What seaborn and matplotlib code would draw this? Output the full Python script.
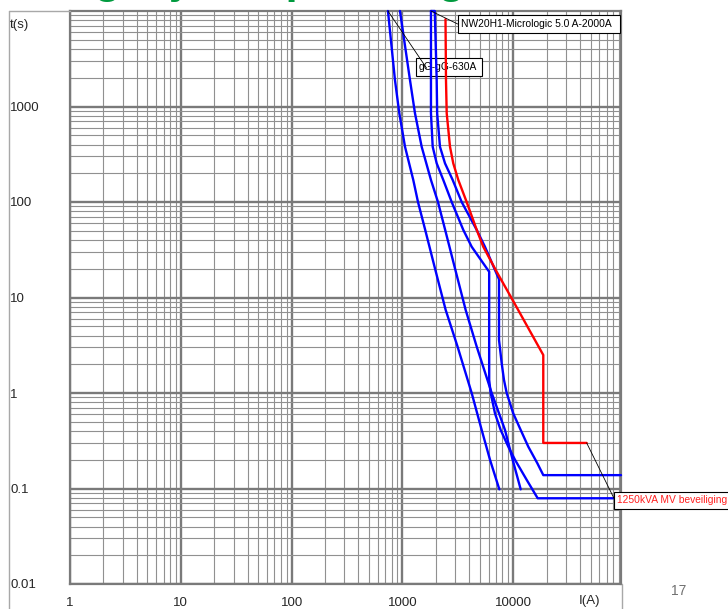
import matplotlib
matplotlib.use("Agg")
import matplotlib.pyplot as plt
import matplotlib.ticker as mticker
from matplotlib.lines import Line2D
from matplotlib.patches import Rectangle
import numpy as np
import pandas as pd
import seaborn as sns

# ---- time-current characteristics (I in A, t in s) ----
fuse_min_I = [741, 857, 938, 1056, 1254, 1383, 1607, 1916, 2095, 2459, 3150, 4220, 5198, 6177, 7496]
fuse_min_t = [10000, 1893, 850, 379, 170, 100, 51, 22.8, 15.2, 7.4, 3.05, 1.0, 0.41, 0.2, 0.098]

fuse_max_I = [951, 1171, 1299, 1493, 1811, 2095, 2433, 2904, 3176, 3725, 4689, 6397, 8435, 9890, 11690]
fuse_max_t = [10000, 1893, 850, 379, 170, 100, 51, 22.8, 15.2, 7.4, 3.05, 1.0, 0.41, 0.2, 0.098]

brk_min_I = [1811, 1811, 1877, 2040, 2340, 2786, 3546, 4221, 6070, 6070, 6265, 6855, 7710, 9035,
             10380, 13250, 16640, 94000]
brk_min_t = [10000, 850, 379, 254, 170, 100, 51, 34, 18.6, 1.37, 1.0, 0.61, 0.41, 0.274,
             0.2, 0.123, 0.079, 0.079]

brk_max_I = [1811, 1960, 2040, 2060, 2184, 2425, 2845, 3428, 4687, 5563, 7450, 7450, 7875, 8260,
             8735, 10020, 11690, 13690, 16510, 18700, 94000]
brk_max_t = [10000, 10000, 1893, 850, 379, 254, 170, 100, 51, 34, 15.5, 3.59, 2.05, 1.37,
             1.0, 0.61, 0.41, 0.274, 0.184, 0.138, 0.138]

mv_I = [2450, 2475, 2512, 2690, 2879, 3197, 3803, 4689, 5370, 7097, 9890, 18690, 18690, 46050]
mv_t = [8200, 1893, 850, 379, 254, 170, 100, 51, 34, 18.6, 9.4, 2.5, 0.3, 0.3]

curve_names = ["gG min", "gG max", "NW20H1 min", "NW20H1 max", "MV"]
curve_colors = ["#0000ff", "#0000ff", "#0000ff", "#0000ff", "#ff0000"]

x_ticks = [1, 10, 100, 1000, 10000]
x_tick_labels = ["1", "10", "100", "1000", "10000"]
y_ticks = [0.01, 0.1, 1, 10, 100, 1000]
y_tick_labels = ["0.01", "0.1", "1", "10", "100", "1000"]

title_text = "Uitleg bij de opstelling"
label_breaker = "NW20H1-Micrologic 5.0 A-2000A"
label_fuse = "gG-gG-630A"
label_mv = "1250kVA MV beveiliging"

frames = []
for name, I, t in zip(curve_names,
                      [fuse_min_I, fuse_max_I, brk_min_I, brk_max_I, mv_I],
                      [fuse_min_t, fuse_max_t, brk_min_t, brk_max_t, mv_t]):
    frames.append(pd.DataFrame({"curve": name, "I": I, "t": t}))
df = pd.concat(frames, ignore_index=True)

sns.set_style("white")
plt.rcParams["font.family"] = ["Liberation Sans", "DejaVu Sans"]

W, H = 728, 609
fig = plt.figure(figsize=(W / 100, H / 100), dpi=100)


def fx(px):
    return px / W


def fy(py):
    return 1 - py / H


ax = fig.add_axes([fx(70), fy(584), fx(621) - fx(70), fy(11) - fy(584)])
ax.set_xscale("log")
ax.set_yscale("log")
ax.set_xlim(1, 94000)
ax.set_ylim(0.01, 10000)

# log grid
ax.xaxis.set_major_locator(mticker.FixedLocator(x_ticks))
ax.yaxis.set_major_locator(mticker.FixedLocator(y_ticks))
ax.xaxis.set_minor_locator(mticker.LogLocator(base=10, subs=np.arange(2, 10)))
ax.yaxis.set_minor_locator(mticker.LogLocator(base=10, subs=np.arange(2, 10)))
ax.xaxis.set_minor_formatter(mticker.NullFormatter())
ax.yaxis.set_minor_formatter(mticker.NullFormatter())
ax.grid(which="major", color="#7a7a7a", lw=1.7, zorder=0)
ax.grid(which="minor", color="#909090", lw=0.8, zorder=0)
ax.set_axisbelow(True)
for s in ax.spines.values():
    s.set_color("#7a7a7a")
    s.set_linewidth(1.6)

for name, col in zip(curve_names, curve_colors):
    sns.lineplot(data=df[df["curve"] == name], x="I", y="t", sort=False, estimator=None,
                 color=col, lw=1.7, ax=ax, zorder=4, clip_on=False, legend=False)

ax.set_xlabel("")
ax.set_ylabel("")
ax.set_xticks(x_ticks)
ax.set_xticklabels(x_tick_labels)
ax.set_yticks(y_ticks)
ax.set_yticklabels(y_tick_labels)
ax.tick_params(axis="both", which="both", length=0)
ax.tick_params(axis="x", pad=9, labelsize=9.5)
ax.tick_params(axis="y", pad=43, labelsize=9.5)
for lab in ax.get_yticklabels():
    lab.set_horizontalalignment("left")


def callout(x0, x1, y0, y1, text, color, z):
    """White boxed label placed in figure pixels."""
    ax.add_patch(Rectangle((fx(x0), fy(y1)), fx(x1) - fx(x0), fy(y0) - fy(y1),
                           transform=fig.transFigure, fc="white", ec="black", lw=0.8,
                           zorder=z, clip_on=False))
    ax.text(fx(x0 + 3.2), fy((y0 + y1) / 2), text, transform=fig.transFigure, fontsize=7.4,
            color=color, ha="left", va="center", zorder=z + 0.1, clip_on=False)


lead = dict(color="black", lw=0.6, clip_on=False)

# breaker label and leader
callout(457.7, 620, 15, 33.3, label_breaker, "black", 6)
ax.plot([brk_max_I[0], 3155], [brk_max_t[0], 7310], zorder=5, **lead)
# fuse label, leader runs across the box
callout(415.7, 481.7, 58.3, 75.5, label_fuse, "black", 3)
ax.plot([fuse_min_I[0], 1657], [fuse_min_t[0], 2513], zorder=5, **lead)
# MV label and leader
callout(614, 745, 491.7, 509, label_mv, "#ff2020", 6)
ax.plot([mv_I[-1], 81300], [mv_t[-1], 0.0788], zorder=5, **lead)

# axis captions
fig.text(fx(10), fy(25), "t(s)", fontsize=9.5, ha="left", va="center")
fig.text(fx(589), fy(601), "I(A)", fontsize=9.5, ha="center", va="center")
fig.text(fx(679), fy(591), "17", fontsize=10, color="#707070", ha="center", va="center")

# slide title (runs off the top edge)
fig.text(fx(0), fy(-7), title_text, fontsize=31.3, fontweight="bold", color="#009a3e",
         ha="left", va="baseline")

# outer frame
fr = "#a8a8a8"
fig.add_artist(Line2D([fx(9), fx(9)], [fy(11), 0], color=fr, lw=1, transform=fig.transFigure))
fig.add_artist(Line2D([fx(9), fx(70)], [fy(11), fy(11)], color=fr, lw=1,
                      transform=fig.transFigure))
fig.add_artist(Line2D([fx(622), fx(622)], [fy(584), 0], color=fr, lw=1,
                      transform=fig.transFigure))

fig.savefig("out.png", dpi=100)
